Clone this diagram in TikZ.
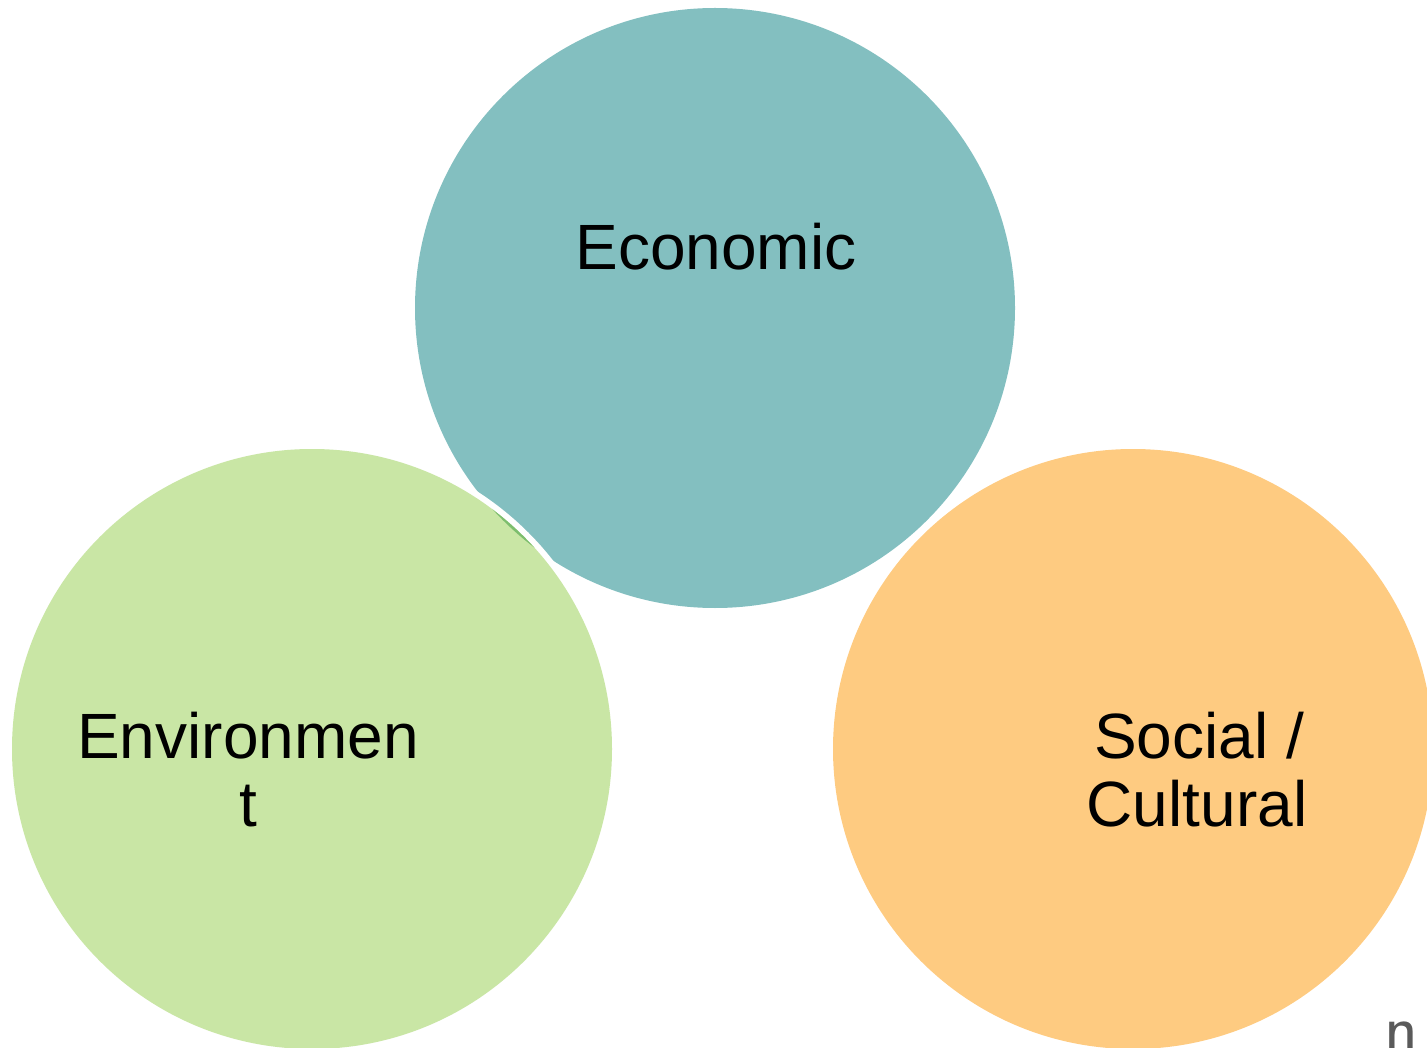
\documentclass[tikz,border=0pt]{standalone}
\usepackage{fontspec}
\setmainfont{Liberation Sans}
\definecolor{ecoc}{HTML}{83BFC0}
\definecolor{envc}{HTML}{C9E6A5}
\definecolor{socc}{HTML}{FECB81}
\definecolor{slivc}{HTML}{7DBE6E}
\definecolor{grayc}{HTML}{5A5A5A}
\tikzset{
  bubble/.style={circle, minimum size=600pt, inner sep=0pt, draw=none},
  lbl/.style={font=\fontsize{64}{68}\selectfont, text=black, inner sep=0pt, align=center},
}
\begin{document}
\begin{tikzpicture}[x=1pt,y=-1pt]
\useasboundingbox (0,0) rectangle (1427,1048);
\clip (0,0) rectangle (1427,1048);
\node[bubble, fill=ecoc] (eco) at (715,308) {};
\node[bubble, fill=white, minimum size=612pt] (gap) at (312,749) {};
\node[bubble, fill=envc] (env) at (312,749) {};
\begin{scope}
  \clip (715,308) circle (300pt);
  \fill[slivc] (312,749) circle (300pt);
\end{scope}
\node[bubble, fill=socc] (soc) at (1133,749) {};
\node[lbl, anchor=base] (ecot) at (716,270) {Economic};
\node[lbl, anchor=base] (envt1) at (248,758) {Environmen};
\node[lbl, anchor=base] (envt2) at (248,826) {t};
\node[lbl, anchor=base] (soct1) at (1199,758) {Social /};
\node[lbl, anchor=base] (soct2) at (1197,826) {Cultural};
\node[font=\fontsize{70}{70}\selectfont\sffamily, text=grayc, anchor=base west, inner sep=0pt] (frag) at (1384,1052) {n};
\end{tikzpicture}
\end{document}
